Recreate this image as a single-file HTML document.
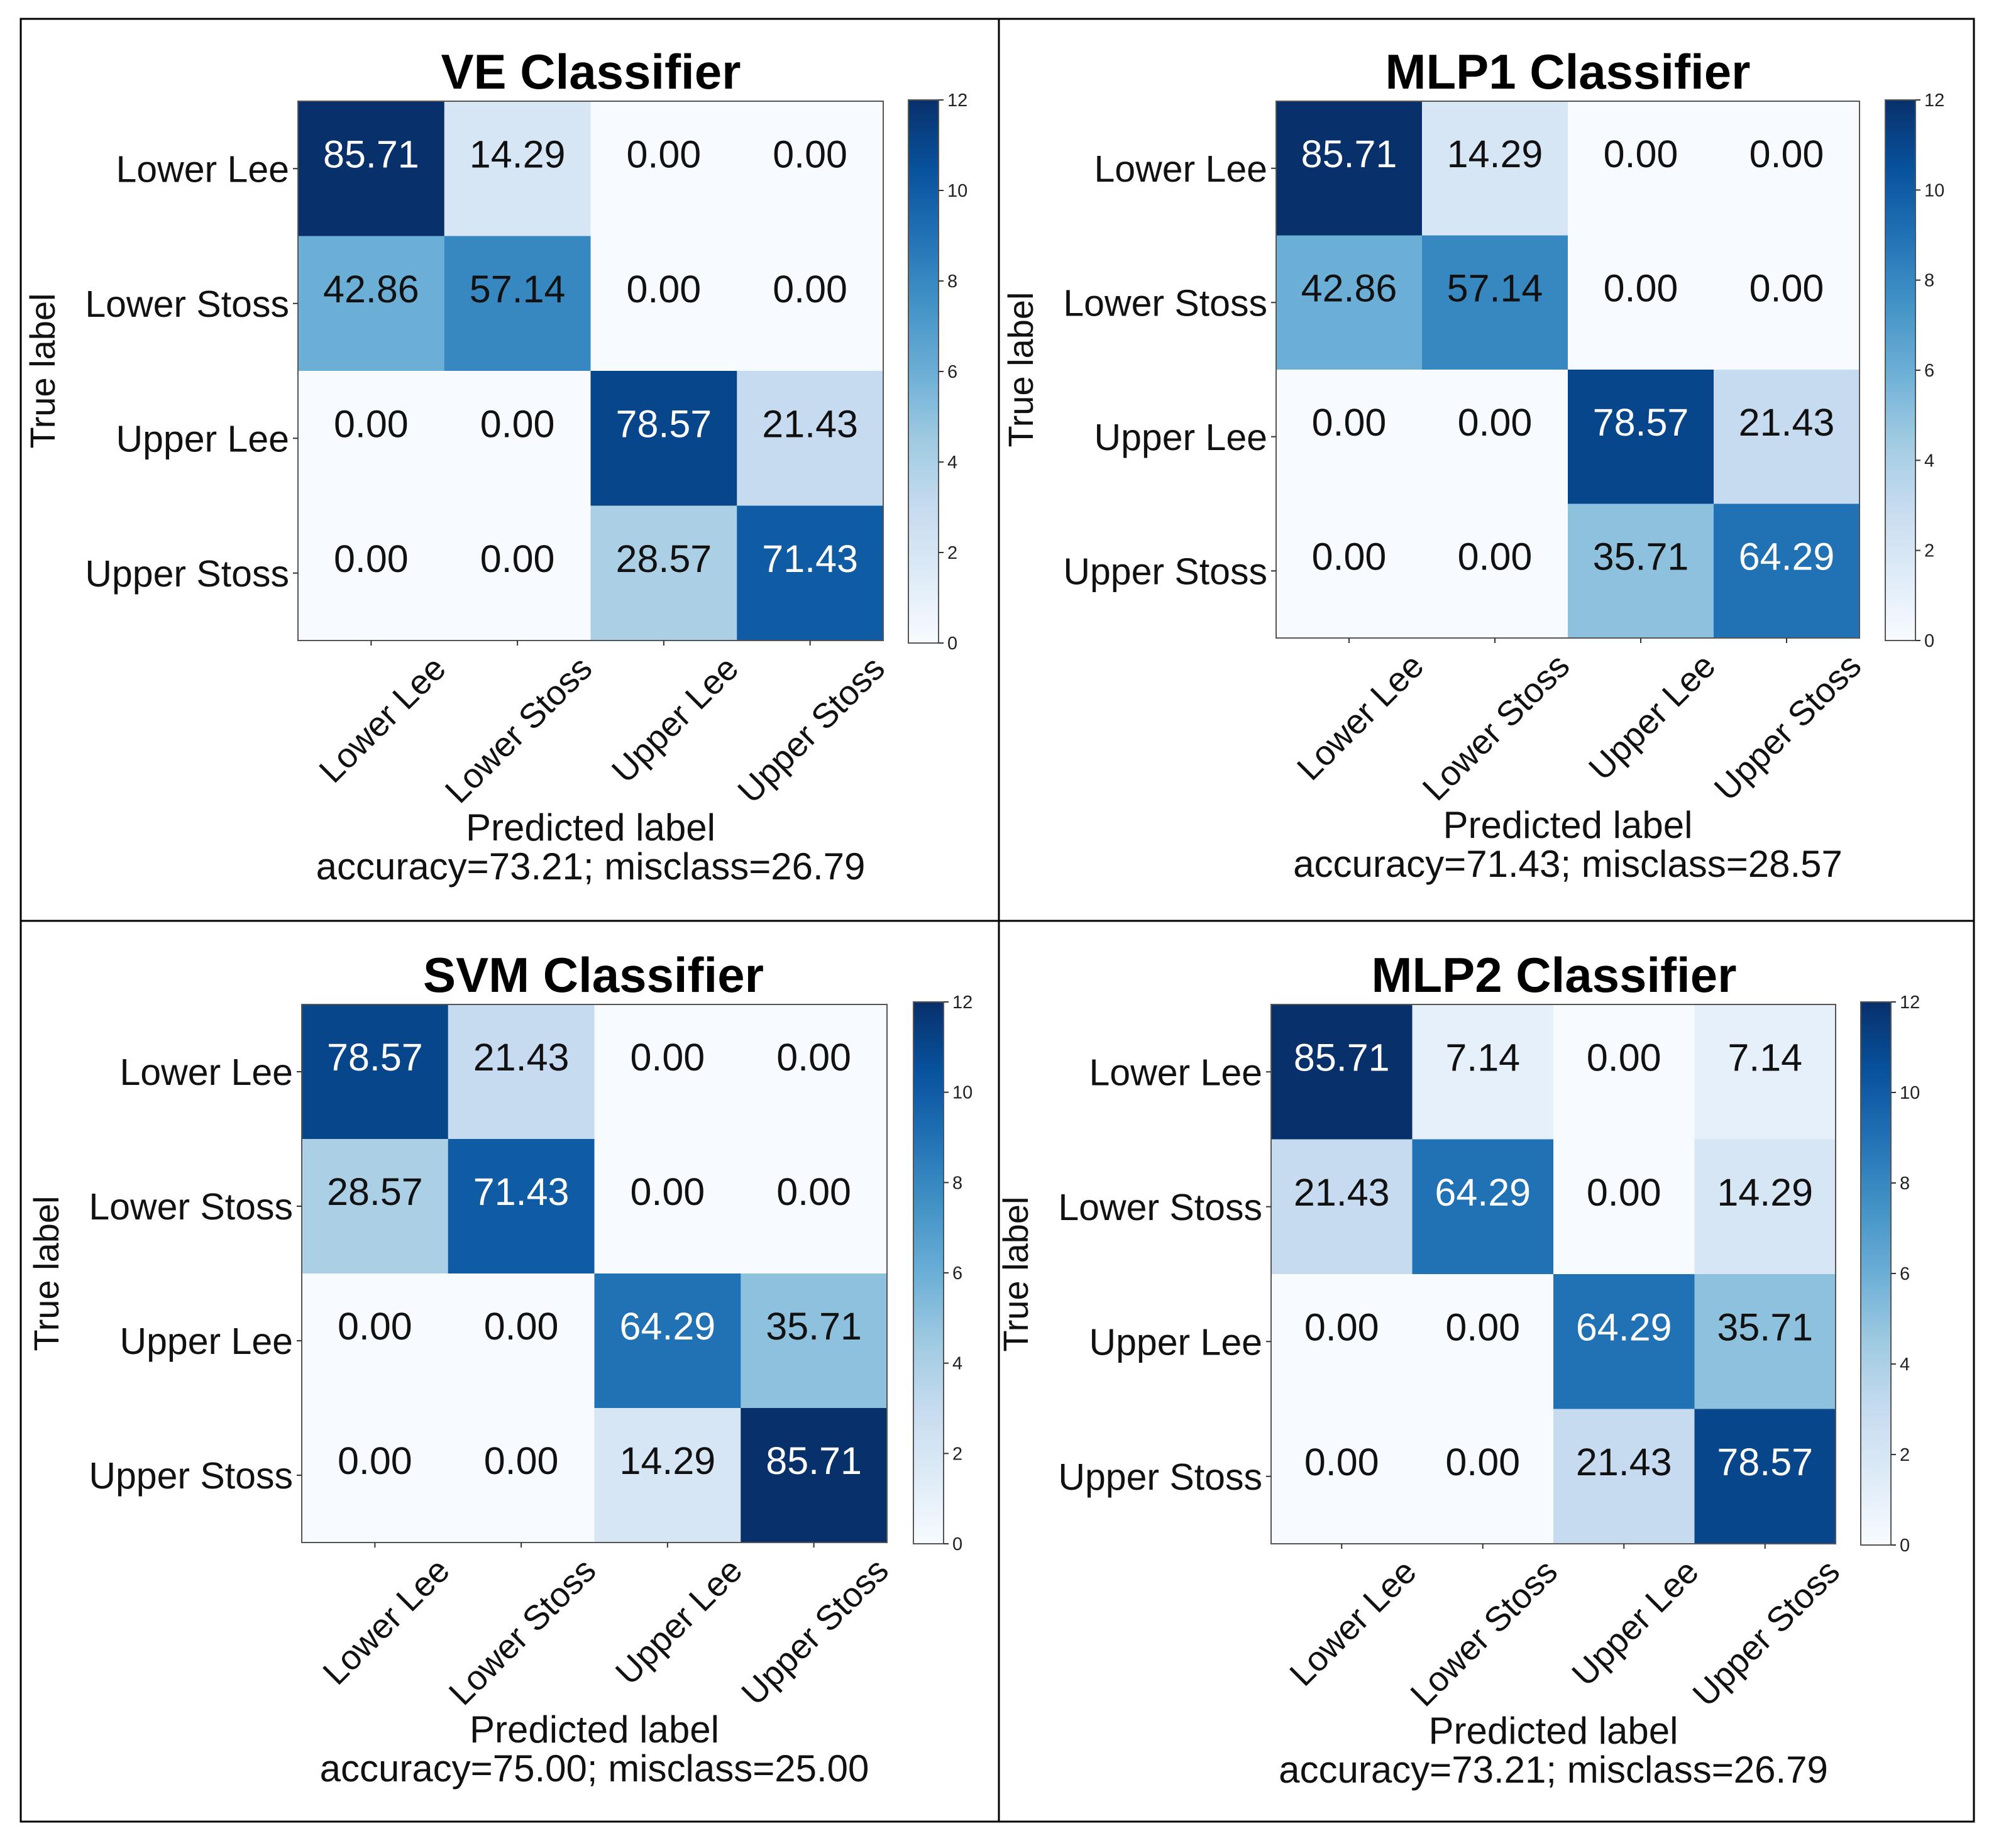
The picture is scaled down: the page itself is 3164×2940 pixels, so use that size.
<!DOCTYPE html>
<html><head><meta charset="utf-8">
<style>
html,body{margin:0;padding:0;background:#fff;}
svg{display:block;font-family:"Liberation Sans","DejaVu Sans",sans-serif;}
</style></head>
<body>
<svg id="fig" width="3164" height="2940" viewBox="0 0 3164 2940" xmlns="http://www.w3.org/2000/svg">
<rect x="0" y="0" width="3164" height="2940" fill="#fff"/>
<g stroke="#000" stroke-width="3" fill="none">
<rect x="33" y="30" width="3107" height="2868"/>
<line x1="1589" y1="30" x2="1589" y2="2898"/>
<line x1="33" y1="1465" x2="3140" y2="1465"/>
</g>
</svg>
<script>
const categories = ["Lower Lee","Lower Stoss","Upper Lee","Upper Stoss"];
const titles = ["VE Classifier","MLP1 Classifier","SVM Classifier","MLP2 Classifier"];
const accuracyLines = ["accuracy=73.21; misclass=26.79","accuracy=71.43; misclass=28.57","accuracy=75.00; misclass=25.00","accuracy=73.21; misclass=26.79"];
const veValues = [[85.71,14.29,0,0],[42.86,57.14,0,0],[0,0,78.57,21.43],[0,0,28.57,71.43]];
const mlp1Values = [[85.71,14.29,0,0],[42.86,57.14,0,0],[0,0,78.57,21.43],[0,0,35.71,64.29]];
const svmValues = [[78.57,21.43,0,0],[28.57,71.43,0,0],[0,0,64.29,35.71],[0,0,14.29,85.71]];
const mlp2Values = [[85.71,7.14,0,7.14],[21.43,64.29,0,14.29],[0,0,64.29,35.71],[0,0,21.43,78.57]];
const colorbarTicks = [0,2,4,6,8,10,12];
const samplesPerClass = 14;
const colorMax = 12;

const panelData = [veValues, mlp1Values, svmValues, mlp2Values];
const layouts = [
 {hx:474,hy:161,hw:931,hh:858,cbx:1445,cby:159,cbh:864,tx:940},
 {hx:2030,hy:161,hw:928,hh:854,cbx:2999,cby:159,cbh:860,tx:2494},
 {hx:480,hy:1598,hw:931,hh:856,cbx:1453,cby:1594,cbh:862,tx:944},
 {hx:2022,hy:1598,hw:898,hh:858,cbx:2960,cby:1594,cbh:864,tx:2472}
];
const blues = ["#f7fbff","#deebf7","#c6dbef","#9ecae1","#6baed6","#4292c6","#2171b5","#08519c","#08306b"];
function hex(c){return [1,3,5].map(i=>parseInt(c.substr(i,2),16));}
function cmap(t){
  t=Math.max(0,Math.min(1,t));
  const p=t*8, i=Math.min(7,Math.floor(p)), f=p-i;
  const a=hex(blues[i]), b=hex(blues[i+1]);
  return "rgb("+a.map((v,k)=>Math.round(v+(b[k]-v)*f)).join(",")+")";
}
const NS="http://www.w3.org/2000/svg";
const svg=document.getElementById("fig");
function mk(tag,attrs,parent){const e=document.createElementNS(NS,tag);for(const k in attrs)e.setAttribute(k,attrs[k]);parent.appendChild(e);return e;}

panelData.forEach((vals,pi)=>{
  const L=layouts[pi];
  const g=mk("g",{},svg);
  
  
  const n=categories.length, cw=L.hw/n, ch=L.hh/n;
  const xS=j=>L.hx+j*cw, yS=i=>L.hy+i*ch;
  const t=mk("text",{x:L.tx,y:L.hy-20,"text-anchor":"middle","font-size":78,"font-weight":"bold",fill:"#000"},g);
  t.textContent=titles[pi];
  
  
  vals.forEach((row,i)=>row.forEach((v,j)=>{
    const cnt=v*samplesPerClass/100;
    const r=mk("rect",{x:xS(j),y:yS(i),width:cw+0.5,height:ch+0.5,fill:cmap(cnt/colorMax)},g);
    
    
    const tx=mk("text",{x:xS(j)+cw/2,y:yS(i)+ch/2-2,"text-anchor":"middle","font-size":61,fill:cnt>8?"#fff":"#111"},g);
    tx.textContent=v.toFixed(2);
    
    
  }));
  mk("rect",{x:L.hx,y:L.hy,width:L.hw,height:L.hh,fill:"none",stroke:"#555","stroke-width":2},g);
  categories.forEach((c,i)=>{
    const yc=yS(i)+ch/2;
    mk("line",{x1:L.hx-8,y1:yc,x2:L.hx,y2:yc,stroke:"#333","stroke-width":2},g);
    const lt=mk("text",{x:L.hx-14,y:yc+21,"text-anchor":"end","font-size":59,fill:"#111"},g);
    lt.textContent=c;
    
    
  });
  categories.forEach((c,j)=>{
    const xc=xS(j)+cw/2, by=L.hy+L.hh;
    mk("line",{x1:xc,y1:by,x2:xc,y2:by+8,stroke:"#333","stroke-width":2},g);
    const ex=xc+122, ey=by+48;
    const lt=mk("text",{x:ex,y:ey,"text-anchor":"end","font-size":55,fill:"#111",transform:"rotate(-45 "+ex+" "+ey+")"},g);
    lt.textContent=c;
    
    
  });
  const cx=L.hx+L.hw/2;
  const yl=mk("text",{x:0,y:0,"text-anchor":"middle","font-size":56,fill:"#111",transform:"translate("+(L.hx-387)+","+(L.hy+L.hh/2)+") rotate(-90)"},g);
  yl.textContent="True label";
  
  
  const xl=mk("text",{x:cx,y:L.hy+L.hh+318,"text-anchor":"middle","font-size":60,fill:"#111"},g);
  xl.textContent="Predicted label";
  
  
  const al=mk("text",{x:cx,y:L.hy+L.hh+380,"text-anchor":"middle","font-size":60,fill:"#111"},g);
  al.textContent=accuracyLines[pi];
  
  
  const gid="cbg"+pi;
  const defs=mk("defs",{},g);
  const lg=mk("linearGradient",{id:gid,x1:0,y1:1,x2:0,y2:0},defs);
  for(let k=0;k<=16;k++){mk("stop",{offset:k/16,"stop-color":cmap(k/16)},lg);}
  const cb=mk("rect",{x:L.cbx,y:L.cby,width:48,height:L.cbh,fill:"url(#"+gid+")",stroke:"#555","stroke-width":2},g);
  
  
  colorbarTicks.forEach(v=>{
    const y=L.cby+L.cbh-(v/colorMax)*L.cbh;
    mk("line",{x1:L.cbx+48,y1:y,x2:L.cbx+56,y2:y,stroke:"#333","stroke-width":2},g);
    const ct=mk("text",{x:L.cbx+62,y:y+10,"font-size":29,fill:"#222"},g);
    ct.textContent=v;
    
    
  });
});
</script>
</body></html>
